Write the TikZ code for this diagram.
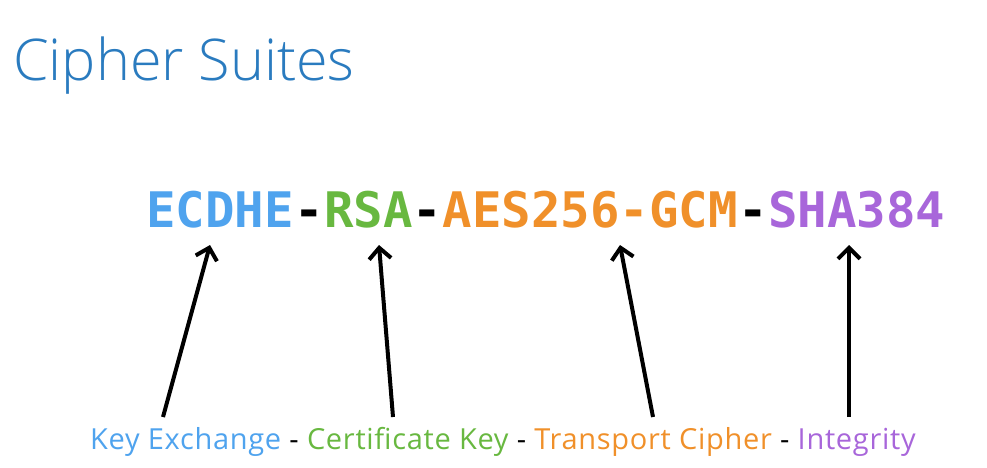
\documentclass[tikz,border=0pt]{standalone}
\usepackage{fontspec}
\setmainfont{Open Sans}
\newfontfamily\titlefont{Open Sans Light}
\newfontfamily\labfont[LetterSpace=2.4]{Open Sans}
\newfontfamily\codefont{DejaVu Sans Mono}
\usetikzlibrary{arrows.meta}
\definecolor{titleblue}{HTML}{2A7BBF}
\definecolor{kblue}{HTML}{4FA3EE}
\definecolor{kgreen}{HTML}{68B840}
\definecolor{korange}{HTML}{F0902A}
\definecolor{kpurple}{HTML}{A866DA}
\tikzset{
  code/.style={anchor=base west, inner sep=0pt, font=\codefont\bfseries\fontsize{49}{49}\selectfont},
  lab/.style={anchor=base west, inner sep=0pt, font=\labfont\fontsize{29}{29}\selectfont},
  arr/.style={line width=4pt, -{Straight Barb[length=11pt,width=22pt,line width=4pt]}, black},
}
\newcommand{\sepdash}{\kern0.27em-\kern0.27em}
\begin{document}
\begin{tikzpicture}[x=1pt,y=1pt]
\useasboundingbox (0,0) rectangle (987,-468);
\node[anchor=base west, inner sep=0pt, text=titleblue, font=\titlefont\fontsize{57.5}{57.5}\selectfont] (title) at (13,-81) {Cipher Suites};
% code line
\node[code, text=kblue] (c1) at (146,-227) {ECDHE};
\node[code] (h1) at (c1.base east) {-};
\node[code, text=kgreen] (c2) at (h1.base east) {RSA};
\node[code] (h2) at (c2.base east) {-};
\node[code, text=korange] (c3) at (h2.base east) {AES256-GCM};
\node[code] (h3) at (c3.base east) {-};
\node[code, text=kpurple] (c4) at (h3.base east) {SHA384};
% labels
\node[lab, text=kblue] (l1) at (90,-449) {Key Exchange};
\node[lab] (s1) at (l1.base east) {\sepdash};
\node[lab, text=kgreen] (l2) at (s1.base east) {Certificate Key};
\node[lab] (s2) at (l2.base east) {\sepdash};
\node[lab, text=korange] (l3) at (s2.base east) {Transport Cipher};
\node[lab] (s3) at (l3.base east) {\sepdash};
\node[lab, text=kpurple] (l4) at (s3.base east) {Integrity};
% arrow ends
\coordinate (a1s) at (163,-417); \coordinate (a1e) at (210,-245);
\coordinate (a2s) at (393,-417); \coordinate (a2e) at (379,-245);
\coordinate (a3s) at (653,-417); \coordinate (a3e) at (620,-245);
\coordinate (a4s) at (849,-417); \coordinate (a4e) at (849,-245);
\draw[arr] (a1s) -- (a1e);
\draw[arr] (a2s) -- (a2e);
\draw[arr] (a3s) -- (a3e);
\draw[arr] (a4s) -- (a4e);
\end{tikzpicture}
\end{document}
